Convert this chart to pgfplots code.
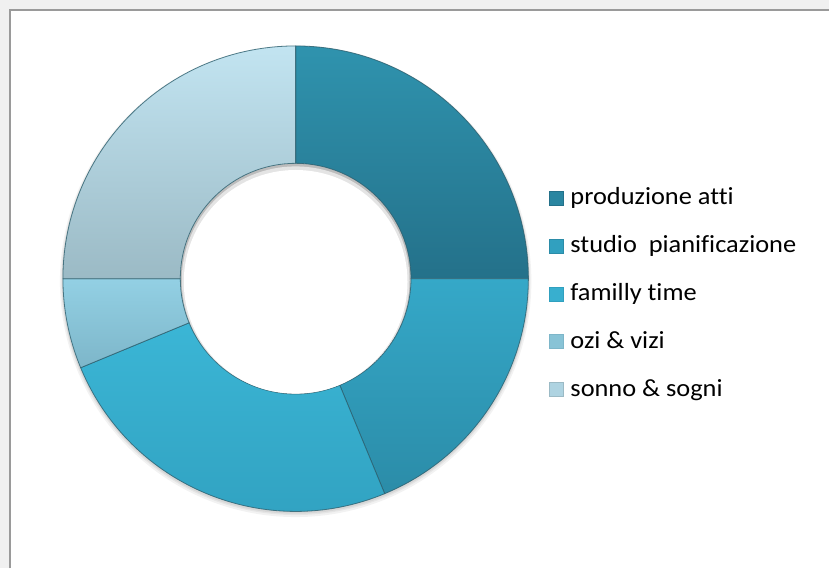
\documentclass[border=0pt]{standalone}
\usepackage{pgfplots}
\pgfplotsset{compat=1.18}
\usepackage{pgfplotstable}
\usepackage{fontspec}
\setmainfont{Carlito}[FakeStretch=1.07, Ligatures={NoCommon}]

\definecolor{pT}{HTML}{2F93AE} \definecolor{pB}{HTML}{24718A} \definecolor{pM}{HTML}{2A86A1}
\definecolor{sT}{HTML}{35A8C8} \definecolor{sB}{HTML}{2B8CA8} \definecolor{sM}{HTML}{31A0BF}
\definecolor{fT}{HTML}{3DBADA} \definecolor{fB}{HTML}{30A0BF} \definecolor{fM}{HTML}{38AFCF}
\definecolor{oT}{HTML}{93D0E4} \definecolor{oB}{HTML}{7DB6C9} \definecolor{oM}{HTML}{88C3D6}
\definecolor{nT}{HTML}{C2E4F1} \definecolor{nB}{HTML}{9BBAC5} \definecolor{nM}{HTML}{AED3E1}
\definecolor{edge}{HTML}{2C5F6E}
\definecolor{bgout}{HTML}{F0F0F0}
\definecolor{framecol}{HTML}{9A9A9A}

% hours of the day spent on each activity
\pgfplotstableread{
hours top bottom
6   pT pB
4.5 sT sB
6   fT fB
1.5 oT oB
6   nT nB
}\hoursdata

\newcommand\Rout{174.75pt}
\newcommand\Rin{86.6pt}

\pgfplotsset{sq legend/.style={legend image code/.code={\draw[##1] (0pt,-4.25pt) rectangle (10.5pt,6.25pt);}}}

\begin{document}
\begin{tikzpicture}
\begin{axis}[
  width=622.5pt, height=426.75pt, scale only axis,
  xmin=0, xmax=830, ymin=0, ymax=569, y dir=reverse,
  hide axis, clip=false,
  legend cell align=left,
  legend style={at={(axis cs:549,295.5)}, anchor=west, draw=none, fill=none,
    inner sep=0pt, font=\fontsize{18.5}{22}\selectfont,
    row sep=18.5pt, column sep=5.5pt,
    nodes={inner sep=0pt, text height=13pt, text depth=4.5pt}},
]
\fill[bgout] (axis cs:0,0) rectangle (axis cs:830,569);
\fill[white] (axis cs:10,10) rectangle (axis cs:830,569);
\draw[framecol, line width=1.5pt] (axis cs:10,569) -- (axis cs:10,10) -- (axis cs:830,10);
\coordinate (c) at (axis cs:296,279);
% soft outer shadow
\fill[black, opacity=0.05] ([yshift=-2pt]c) circle[radius=177pt];
\fill[black, opacity=0.05] ([yshift=-1.5pt]c) circle[radius=176pt];
\fill[black, opacity=0.06] ([yshift=-1pt]c) circle[radius=175.5pt];

\pgfplotstablegetrowsof{\hoursdata}
\pgfmathtruncatemacro\nrows{\pgfplotsretval-1}
\gdef\total{0}
\pgfplotsforeachungrouped \i in {0,...,\nrows}{%
  \pgfplotstablegetelem{\i}{hours}\of\hoursdata
  \pgfmathsetmacro\total{\total+\pgfplotsretval}%
}
\gdef\cum{90}
\pgfplotsforeachungrouped \i in {0,...,\nrows}{%
  \pgfplotstablegetelem{\i}{hours}\of\hoursdata \let\h\pgfplotsretval
  \pgfplotstablegetelem{\i}{top}\of\hoursdata \let\tc\pgfplotsretval
  \pgfplotstablegetelem{\i}{bottom}\of\hoursdata \let\bc\pgfplotsretval
  \pgfmathsetmacro\sa{\cum}%
  \pgfmathsetmacro\ea{\cum-360*\h/\total}%
  \xdef\cum{\ea}%
  \edef\temp{\noexpand\path[top color=\tc, bottom color=\bc, draw=edge, draw opacity=0.8, line width=0.6pt] (c) ++(\sa:\Rout) arc[start angle=\sa, end angle=\ea, radius=\Rout] -- ([shift={(\ea:\Rin)}]c) arc[start angle=\ea, end angle=\sa, radius=\Rin] -- cycle;}%
  \temp
}
% inner shadow of the hole
\begin{scope}
\clip (c) circle[radius=86.3pt];
\fill[black, opacity=0.12] (c) circle[radius=87pt];
\fill[white, opacity=0.6] ([yshift=-1.2pt]c) circle[radius=85.5pt];
\fill[white] ([yshift=-2.4pt]c) circle[radius=84pt];
\end{scope}

\addlegendimage{sq legend, fill=pM, draw=pB}
\addlegendentry{produzione atti}
\addlegendimage{sq legend, fill=sM, draw=sB}
\addlegendentry{studio\ \ pianificazione}
\addlegendimage{sq legend, fill=fM, draw=fB}
\addlegendentry{familly time}
\addlegendimage{sq legend, fill=oM, draw=oB}
\addlegendentry{ozi \& vizi}
\addlegendimage{sq legend, fill=nM, draw=nB}
\addlegendentry{sonno \& sogni}
\end{axis}
\end{tikzpicture}
\end{document}
